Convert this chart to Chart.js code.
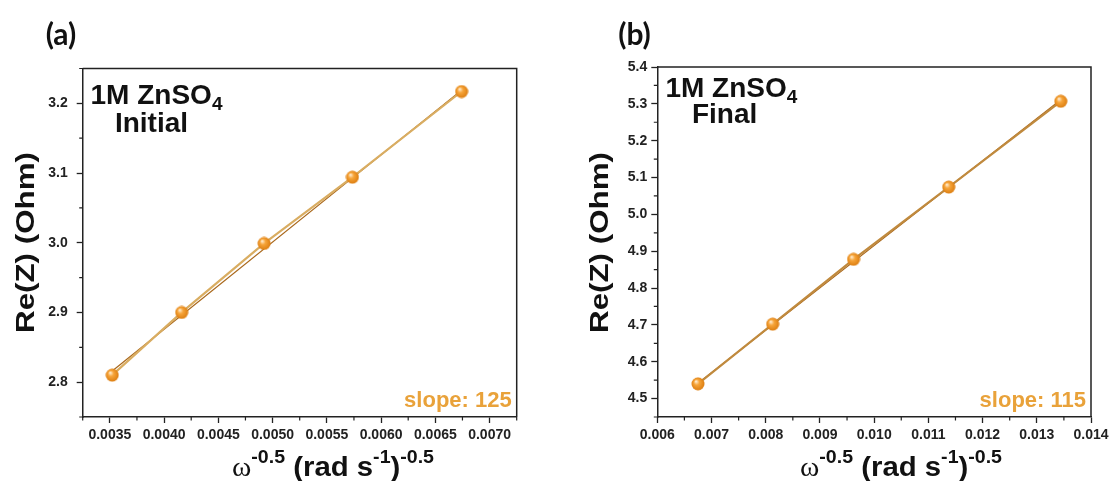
<!DOCTYPE html>
<html>
<head>
<meta charset="utf-8">
<script src="https://cdn.jsdelivr.net/npm/chart.js@4.4.0/dist/chart.umd.min.js"></script>
<style>
body{margin:0;background:#fff;width:1114px;height:481px;overflow:hidden;position:relative}
.panel{position:absolute;top:0;width:557px;height:481px}
</style>
</head>
<body>
<div class="panel" style="left:0"><canvas id="chartA" width="557" height="481"></canvas></div>
<div class="panel" style="left:557px"><canvas id="chartB" width="557" height="481"></canvas></div>
<script>
// (a) inicial
const omegaA = [0.003522, 0.004162, 0.004922, 0.005736, 0.006742];
const reZA = [2.810, 2.900, 2.999, 3.094, 3.217];
const fitXA = [0.003522, 0.006742];
const fitYA = [2.816, 3.219];
const xTicksA = [0.0035, 0.0040, 0.0045, 0.0050, 0.0055, 0.0060, 0.0065, 0.0070];
const yTicksA = [2.8, 2.9, 3.0, 3.1, 3.2];

// (b) final
const omegaB = [0.00675, 0.008128, 0.00962, 0.011375, 0.013443];
const reZB = [4.540, 4.702, 4.878, 5.074, 5.307];
const fitXB = [0.00675, 0.013443];
const fitYB = [4.542, 5.311];
const xTicksB = [0.006, 0.007, 0.008, 0.009, 0.010, 0.011, 0.012, 0.013, 0.014];
const yTicksB = [4.5, 4.6, 4.7, 4.8, 4.9, 5.0, 5.1, 5.2, 5.3, 5.4];

const SANS = "'Liberation Sans', Arial, sans-serif";
const ORANGE_TXT = '#E9A23A';

function sphere() {
  const c = document.createElement('canvas');
  c.width = 14; c.height = 14;
  const g = c.getContext('2d');
  const grad = g.createRadialGradient(5, 4.5, 0.5, 7, 7, 7);
  grad.addColorStop(0, '#FFE9C8');
  grad.addColorStop(0.35, '#F7A53A');
  grad.addColorStop(1, '#DA7A0C');
  g.fillStyle = grad;
  g.beginPath(); g.arc(7, 7, 6.5, 0, Math.PI * 2); g.fill();
  return c;
}
const ball = sphere();

// pinta trozos de texto (super/subindices), centrado en cx
function drawParts(ctx, parts, cx, base, targetW) {
  let w = 0;
  parts.forEach(p => { ctx.font = p[1]; w += ctx.measureText(p[0]).width; });
  const sx = targetW ? targetW / w : 1;
  ctx.save();
  ctx.translate(cx - w * sx / 2, base);
  ctx.scale(sx, 1);
  ctx.textAlign = 'left';
  ctx.textBaseline = 'alphabetic';
  let x = 0;
  parts.forEach(p => { ctx.font = p[1]; ctx.fillText(p[0], x, p[2]); x += ctx.measureText(p[0]).width; });
  ctx.restore();
}

const decor = {
  id: 'decor',
  afterDraw(chart, args, o) {
    const ctx = chart.ctx;
    const a = chart.chartArea;
    const xs = chart.scales.x, ys = chart.scales.y;
    ctx.save();
    // marco arriba y derecha
    ctx.strokeStyle = '#222';
    ctx.lineWidth = 1.5;
    ctx.beginPath();
    ctx.moveTo(a.left, a.top); ctx.lineTo(a.right, a.top); ctx.lineTo(a.right, a.bottom);
    ctx.stroke();
    // ticks menores
    ctx.lineWidth = 1.2;
    ctx.beginPath();
    o.minorX.forEach(v => {
      const px = xs.getPixelForValue(v);
      ctx.moveTo(px, a.bottom); ctx.lineTo(px, a.bottom + 3.5);
    });
    o.minorY.forEach(v => {
      const py = ys.getPixelForValue(v);
      ctx.moveTo(a.left, py); ctx.lineTo(a.left - 3.5, py);
    });
    ctx.stroke();

    ctx.fillStyle = '#111';
    // etiqueta de panel
    ctx.font = "bold 30px Lato, 'Open Sans', sans-serif";
    ctx.textAlign = 'center';
    ctx.fillText(o.panel, o.panelX, 45);

    // 1M ZnSO4
    drawParts(ctx, [['1M ZnSO', 'bold 28px ' + SANS, 0], ['4', 'bold 19px ' + SANS, 6]], o.nameX, o.nameY, 0);
    ctx.font = 'bold 28px ' + SANS;
    ctx.textAlign = 'center';
    ctx.fillText(o.state, o.stateX, o.nameY + o.stateDy);

    // slope
    ctx.fillStyle = ORANGE_TXT;
    ctx.font = 'bold 22px ' + SANS;
    ctx.textAlign = 'right';
    ctx.fillText(o.slope, a.right - 5, 407);

    // titulo eje x
    ctx.fillStyle = '#111';
    drawParts(ctx, [
      ['\u03c9', "27px 'Liberation Serif', serif", 0],
      ['-0.5', 'bold 18px ' + SANS, -13],
      [' (rad s', 'bold 27px ' + SANS, 0],
      ['-1', 'bold 18px ' + SANS, -13],
      [')', 'bold 27px ' + SANS, 0],
      ['-0.5', 'bold 18px ' + SANS, -13]
    ], o.xTitleX, 476, 202);

    // titulo eje y
    ctx.save();
    ctx.translate(a.left - 58, 242.5);
    ctx.rotate(-Math.PI / 2);
    drawParts(ctx, [['Re(Z) (Ohm)', 'bold 26px ' + SANS, 0]], 0, 9, 181);
    ctx.restore();
    ctx.restore();
  }
};

function makeChart(id, xs, ys, fx, fy, xTicks, yTicks, lim, dec, lay, deco) {
  return new Chart(document.getElementById(id), {
    type: 'scatter',
    data: {
      datasets: [{
        data: xs.map((x, i) => ({ x: x, y: ys[i] })),
        showLine: true,
        borderColor: deco.lineColor,
        borderWidth: 2.2,
        pointStyle: ball,
        pointRadius: 7,
        order: 0
      }, {
        data: fx.map((x, i) => ({ x: x, y: fy[i] })),
        showLine: true,
        borderColor: '#A9671A',
        borderWidth: 1.2,
        pointRadius: 0,
        order: 1
      }]
    },
    plugins: [decor],
    options: {
      responsive: false,
      animation: false,
      layout: { padding: lay.pad },
      plugins: {
        legend: { display: false },
        tooltip: { enabled: false },
        decor: deco
      },
      scales: {
        x: {
          type: 'linear', min: lim.x0, max: lim.x1,
          afterBuildTicks: s => { s.ticks = xTicks.map(v => ({ value: v })); },
          afterFit: s => { s.height = 64; },
          ticks: {
            callback: v => v.toFixed(dec.x), color: '#222', padding: 4,
            maxRotation: 0, autoSkip: false,
            font: { family: SANS, size: 14, weight: 'bold' }
          },
          grid: { drawOnChartArea: false, drawTicks: true, tickLength: 6, tickColor: '#222', tickWidth: 1.3 },
          border: { display: true, color: '#222', width: 1.5 }
        },
        y: {
          type: 'linear', min: lim.y0, max: lim.y1,
          afterBuildTicks: s => { s.ticks = yTicks.map(v => ({ value: v })); },
          afterFit: s => { s.width = lay.yw; },
          ticks: {
            callback: v => v.toFixed(dec.y), color: '#222', padding: lay.yPad,
            autoSkip: false,
            font: { family: SANS, size: 14, weight: 'bold' }
          },
          grid: { drawOnChartArea: false, drawTicks: true, tickLength: 6, tickColor: '#222', tickWidth: 1.3 },
          border: { display: true, color: '#222', width: 1.5 }
        }
      }
    }
  });
}

makeChart('chartA', omegaA, reZA, fitXA, fitYA, xTicksA, yTicksA,
  { x0: 0.00325, x1: 0.00725, y0: 2.75, y1: 3.25 }, { x: 4, y: 1 },
  { pad: { top: 68.5, right: 40.3, left: 0, bottom: 0 }, yw: 82.7, yPad: 9 },
  {
    panel: '(a)', panelX: 61, nameX: 156.5, nameY: 104, state: 'Initial', stateX: 151.5, stateDy: 28,
    slope: 'slope: 125', xTitleX: 333, lineColor: '#D9AD62',
    minorX: [0.00325, 0.00375, 0.00425, 0.00475, 0.00525, 0.00575, 0.00625, 0.00675, 0.00725],
    minorY: [2.75, 2.85, 2.95, 3.05, 3.15, 3.25]
  });

makeChart('chartB', omegaB, reZB, fitXB, fitYB, xTicksB, yTicksB,
  { x0: 0.006, x1: 0.014, y0: 4.45, y1: 5.4 }, { x: 3, y: 1 },
  { pad: { top: 67, right: 23, left: 17.3, bottom: 0 }, yw: 83, yPad: 4 },
  {
    panel: '(b)', panelX: 77.5, nameX: 174.4, nameY: 97, state: 'Final', stateX: 167.6, stateDy: 26,
    slope: 'slope: 115', xTitleX: 344, lineColor: '#C08A3E',
    minorX: [0.0065, 0.0075, 0.0085, 0.0095, 0.0105, 0.0115, 0.0125, 0.0135],
    minorY: [4.45, 4.55, 4.65, 4.75, 4.85, 4.95, 5.05, 5.15, 5.25, 5.35]
  });
</script>
</body>
</html>
